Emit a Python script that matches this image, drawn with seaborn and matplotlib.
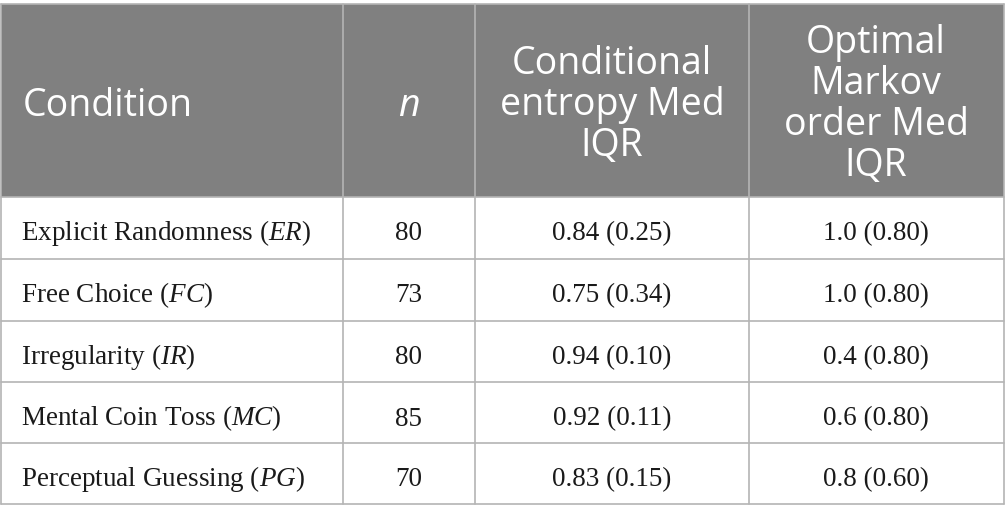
import seaborn as sns
import matplotlib.pyplot as plt

# Данные таблицы
conditions = ["Explicit Randomness", "Free Choice", "Irregularity",
              "Mental Coin Toss", "Perceptual Guessing"]
abbrevs = ["ER", "FC", "IR", "MC", "PG"]
n_vals = [80, 73, 80, 85, 70]
entropy_med = ["0.84", "0.75", "0.94", "0.92", "0.83"]
entropy_iqr = ["0.25", "0.34", "0.10", "0.11", "0.15"]
markov_med = ["1.0", "1.0", "0.4", "0.6", "0.8"]
markov_iqr = ["0.80", "0.80", "0.80", "0.80", "0.60"]
header_entropy = ["Conditional", "entropy Med", "IQR"]
header_markov = ["Optimal", "Markov", "order Med", "IQR"]

sns.set_theme(style="white")
plt.rcParams['mathtext.fontset'] = 'custom'
plt.rcParams['mathtext.rm'] = 'Liberation Serif'
plt.rcParams['mathtext.it'] = 'Liberation Serif:italic'

fig = plt.figure(figsize=(10.05, 5.2), dpi=100)
ax = fig.add_axes([0, 0, 1, 1])
ax.set_xlim(0, 1005)
ax.set_ylim(520, 0)
ax.axis('off')

col_x = [1, 343, 475, 749, 1004]
row_y = [4, 197, 259, 321, 382, 443, 504]
head_gray = '#808080'
line_gray = '#b4b4b4'

# Фон шапки
ax.fill_between([col_x[0], col_x[-1]], row_y[0], row_y[1], color=head_gray, lw=0)

# Линии сетки
for y in row_y:
    ax.plot([col_x[0], col_x[-1]], [y, y], color=line_gray, lw=1.2)
for x in col_x:
    ax.plot([x, x], [row_y[0], row_y[-1]], color=line_gray, lw=1.2)

# Шапка
hfont = dict(family='Open Sans', size=27, color='white')
ax.text(23, 116, "Condition", ha='left', va='baseline', **hfont)
ax.text(409, 116, "n", ha='center', va='baseline', style='italic', **hfont)
for i, s in enumerate(header_entropy):
    ax.text(612, 74 + 41 * i, s, ha='center', va='baseline', **hfont)
for i, s in enumerate(header_markov):
    ax.text(876, 53 + 41 * i, s, ha='center', va='baseline', **hfont)

# Строки
bfont = dict(family='Liberation Serif', size=19.5, color='#1a1a1a')
for i in range(len(conditions)):
    base = row_y[i + 1] + 43.5
    ax.text(21, base, conditions[i] + " ($\\mathit{" + abbrevs[i] + "}$)",
            ha='left', va='baseline', **bfont)
    ax.text(409, base, str(n_vals[i]), ha='center', va='baseline', **bfont)
    ax.text(612, base, f"{entropy_med[i]} ({entropy_iqr[i]})",
            ha='center', va='baseline', **bfont)
    ax.text(876, base, f"{markov_med[i]} ({markov_iqr[i]})",
            ha='center', va='baseline', **bfont)

fig.savefig('out.png', dpi=100)
